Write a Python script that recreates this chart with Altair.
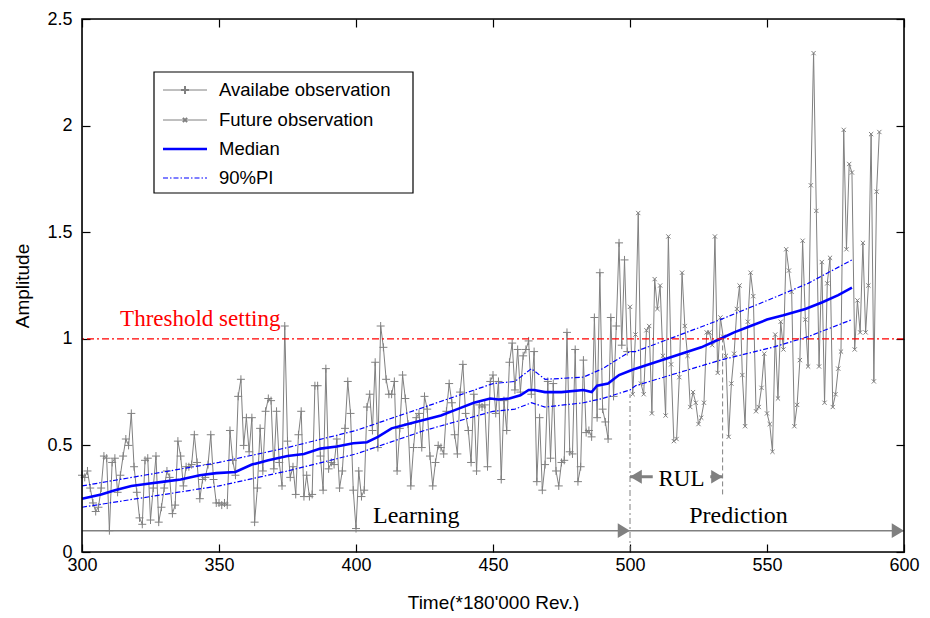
import altair as alt
import pandas as pd

# ---------------- data ----------------
avail_start = 300
avail_vals = [
    0.36, 0.35, 0.38, 0.30, 0.23, 0.19, 0.21, 0.30, 0.45, 0.44,
    0.10, 0.42, 0.44, 0.28, 0.36, 0.45, 0.53, 0.50, 0.65, 0.40,
    0.28, 0.16, 0.13, 0.43, 0.44, 0.15, 0.30, 0.45, 0.14, 0.21,
    0.30, 0.38, 0.35, 0.18, 0.22, 0.52, 0.45, 0.31, 0.40, 0.40,
    0.41, 0.55, 0.42, 0.25, 0.34, 0.35, 0.41, 0.55, 0.34, 0.23,
    0.23,
    0.22, 0.23, 0.22, 0.57, 0.43, 0.36, 0.73, 0.81, 0.50, 0.63,
    0.47, 0.63, 0.14, 0.30, 0.58, 0.38, 0.66, 0.72, 0.71, 0.39,
    0.66, 0.42, 0.31, 1.06, 0.52, 0.35, 0.40, 0.27, 0.55, 0.66,
    0.26, 0.36, 0.26, 0.27, 0.78, 0.78, 0.45, 0.29, 0.86, 0.39,
    0.42, 0.41, 0.53, 0.30, 0.38, 0.58, 0.80, 0.65, 0.29, 0.11,
    0.38, 0.26, 0.29, 0.68, 0.74, 0.57, 0.89, 0.49, 1.06, 0.96,
    0.81, 0.74, 0.74, 0.80, 0.38, 0.58, 0.83, 0.72, 0.60, 0.31,
    0.49, 0.63, 0.65, 0.49, 0.73, 0.67, 0.45, 0.31, 0.42, 0.50,
    0.49, 0.46, 0.66, 0.79, 0.70, 0.55, 0.46, 0.75, 0.88, 0.65,
    0.57, 0.42, 0.74, 0.38, 0.69, 0.68, 0.69, 0.40, 0.80, 0.83,
    0.65,
    0.80, 0.34, 0.71, 0.57, 0.89, 0.98, 0.76, 0.95, 0.75, 0.92,
    0.95, 0.99, 0.74, 0.94, 0.33, 0.63, 0.29, 0.41, 0.80, 0.44,
    0.79, 0.38, 0.31, 0.42, 0.43, 1.03, 0.47, 0.46, 0.95, 0.33,
    0.40, 0.90, 0.56, 0.57, 0.54, 1.10, 0.63, 1.31, 0.67, 0.61,
    0.53, 1.10, 0.73, 1.06, 1.45, 0.97, 1.37, 0.94,
]

future_start = 500
future_vals = [
    1.15, 0.74, 1.02, 1.59, 0.79, 0.74, 1.04, 1.06, 0.65,
    1.28, 1.14, 1.25, 0.92, 0.64, 1.48, 0.88, 0.52, 0.53, 0.82,
    1.31, 1.06, 0.92, 0.68, 0.75, 0.70, 0.60, 0.63, 0.70, 1.03,
    1.03, 0.97, 1.48, 0.84, 1.10, 1.01, 0.92, 0.54, 0.79, 0.93,
    1.14, 1.25, 0.83, 0.59, 1.08, 1.31, 1.20, 0.66, 0.68, 0.77,
    0.93, 0.65, 0.60, 0.47, 1.02, 0.72, 1.08, 0.95, 1.42, 1.32,
    1.22, 0.59, 0.69, 0.90, 1.46, 1.09, 0.87, 1.72, 2.34, 1.60,
    0.87, 1.36, 0.70, 1.26, 1.38, 0.68, 0.74, 0.86, 0.94, 1.98,
    1.42, 1.82, 1.78, 0.95, 1.18, 1.03, 1.45, 1.03, 1.25, 1.96,
    0.80, 1.69, 1.97,
]

median_t = [300, 307, 312, 318, 324, 330, 336, 343, 349, 356, 362, 368, 375,
            381, 387, 393, 399, 404, 408, 413, 419, 425, 431, 437, 443, 449,
            452, 456, 460, 463, 465, 469, 475, 483, 486, 488, 492, 494, 496,
            500, 502, 514, 526, 533, 538, 544, 550, 556, 564, 570, 576, 581]
median_v = [0.25, 0.27, 0.29, 0.31, 0.32, 0.33, 0.34, 0.36, 0.37, 0.375, 0.41,
            0.43, 0.45, 0.46, 0.485, 0.495, 0.51, 0.515, 0.54, 0.58, 0.60, 0.62,
            0.64, 0.67, 0.70, 0.72, 0.715, 0.72, 0.735, 0.76, 0.76, 0.75, 0.75,
            0.76, 0.75, 0.78, 0.79, 0.81, 0.83, 0.85, 0.86, 0.91, 0.96, 1.00,
            1.03, 1.06, 1.09, 1.11, 1.14, 1.17, 1.205, 1.24]

pi_t = [300, 350, 375, 400, 425, 450, 458, 464, 469, 483, 490, 500, 502,
        533, 552, 565, 581]
pi_lo = [0.21, 0.31, 0.38, 0.46, 0.57, 0.66, 0.67, 0.70, 0.68, 0.70, 0.72,
         0.76, 0.78, 0.90, 0.96, 1.01, 1.09]
pi_hi = [0.31, 0.42, 0.49, 0.57, 0.68, 0.79, 0.80, 0.86, 0.81, 0.82, 0.86,
         0.94, 0.94, 1.09, 1.19, 1.26, 1.37]

threshold = 1.0
learn_start, learn_end, pred_end = 300, 500, 600
phase_level = 0.1
rul_start, rul_end, rul_level = 500, 533.8, 0.353
vline_500 = [0.0, 0.74]
vline_rul = [0.27, 1.0]

x_ticks = [300, 350, 400, 450, 500, 550, 600]
y_ticks = [0, 0.5, 1, 1.5, 2, 2.5]

legend_labels = ["Availabe observation", "Future observation", "Median", "90%PI"]

# ---------------- styling ----------------
W, H = 822, 533
GRAY = "#808080"
BLUE = "#0000ff"
SANS = "Liberation Sans, Arial, sans-serif"
SERIF = "Liberation Serif, Times New Roman, serif"
PLUS = "M-1,0L1,0M0,-1L0,1"
CROSS = "M-1,-1L1,1M-1,1L1,-1"
HEAD_R = "M0,0L-1,-0.6L-1,0.6Z"
HEAD_L = "M0,0L1,-0.6L1,0.6Z"

xs = alt.Scale(domain=[300, 600], nice=False, zero=False)
ys = alt.Scale(domain=[0, 2.5], nice=False, zero=False)


def X(f, axis=None):
    return alt.X(f"{f}:Q", scale=xs, axis=axis)


def Y(f, axis=None):
    return alt.Y(f"{f}:Q", scale=ys, axis=axis)


common_ax = dict(offset=-8, tickSize=8, domain=False, grid=False,
                 tickColor="black", tickWidth=1.2, labelColor="black",
                 labelFont=SANS, labelFlush=False, labelOverlap=False,
                 titleFont=SANS, titleFontWeight="normal", titleColor="black")

ax_bottom = alt.Axis(values=x_ticks, orient="bottom", labelPadding=4,
                     labelFontSize=18, title="Time(*180'000 Rev.)",
                     titleFontSize=19, titlePadding=19, **common_ax)
ax_left = alt.Axis(values=y_ticks, orient="left", labelPadding=10,
                   labelFontSize=18, format="~g", title="Amplitude",
                   titleFontSize=19, titlePadding=14, **common_ax)
ax_top = alt.Axis(values=x_ticks, orient="top", labels=False, title=None,
                  **common_ax)
ax_right = alt.Axis(values=y_ticks, orient="right", labels=False, title=None,
                    **common_ax)

obs_df = pd.DataFrame({"t": [avail_start + i for i in range(len(avail_vals))],
                       "v": avail_vals})
fut_df = pd.DataFrame({"t": [future_start + i for i in range(len(future_vals))],
                       "v": future_vals})
med_df = pd.DataFrame({"t": median_t, "v": median_v})
pi_df = pd.concat([
    pd.DataFrame({"t": pi_t, "v": pi_lo, "b": "lo"}),
    pd.DataFrame({"t": pi_t, "v": pi_hi, "b": "hi"}),
])

layers = []

# frame ticks (top/right)
layers.append(alt.Chart(obs_df).mark_point(opacity=0).encode(
    x=X("t", ax_top), y=Y("v", ax_right)))

# available observations
layers.append(alt.Chart(obs_df).mark_line(color=GRAY, strokeWidth=1).encode(
    x=X("t", ax_bottom), y=Y("v", ax_left)))
layers.append(alt.Chart(obs_df).mark_point(shape=PLUS, size=64, filled=False,
                                           color=GRAY, strokeWidth=1, opacity=1).encode(
    x=X("t"), y=Y("v")))

# future observations
layers.append(alt.Chart(fut_df).mark_line(color=GRAY, strokeWidth=1).encode(
    x=X("t"), y=Y("v")))
layers.append(alt.Chart(fut_df).mark_point(shape=CROSS, size=18, filled=False,
                                           color=GRAY, strokeWidth=1, opacity=1).encode(
    x=X("t"), y=Y("v")))

# prediction interval and median
layers.append(alt.Chart(pi_df).mark_line(color=BLUE, strokeWidth=1.2,
                                         strokeDash=[5, 2, 1.5, 2]).encode(
    x=X("t"), y=Y("v"), detail="b:N"))
layers.append(alt.Chart(med_df).mark_line(color=BLUE, strokeWidth=2.6).encode(
    x=X("t"), y=Y("v")))

# threshold
layers.append(alt.Chart(pd.DataFrame({"v": [threshold]})).mark_rule(
    color="#ff0000", strokeWidth=1.3, strokeDash=[7, 3, 2, 3]).encode(y=Y("v")))
layers.append(alt.Chart(pd.DataFrame({"t": [313.9], "v": [1.06],
                                      "s": ["Threshold setting"]})).mark_text(
    align="left", baseline="alphabetic", font=SERIF, fontSize=23,
    color="#ff0000").encode(x=X("t"), y=Y("v"), text="s:N"))

# vertical guide lines
layers.append(alt.Chart(pd.DataFrame({"t": [learn_end], "a": [vline_500[0]],
                                      "b": [vline_500[1]]})).mark_rule(
    color=GRAY, strokeWidth=1, strokeDash=[6, 3, 2, 3]).encode(
    x=X("t"), y=Y("a"), y2="b"))
layers.append(alt.Chart(pd.DataFrame({"t": [rul_end], "a": [vline_rul[0]],
                                      "b": [vline_rul[1]]})).mark_rule(
    color=GRAY, strokeWidth=1, strokeDash=[5, 3]).encode(
    x=X("t"), y=Y("a"), y2="b"))

# learning / prediction arrows
layers.append(alt.Chart(pd.DataFrame({"a": [learn_start], "b": [pred_end],
                                      "v": [phase_level]})).mark_rule(
    color=GRAY, strokeWidth=1.5).encode(x=X("a"), x2="b", y=Y("v")))
layers.append(alt.Chart(pd.DataFrame({"t": [learn_end, pred_end],
                                      "v": [phase_level, phase_level]})).mark_point(
    shape=HEAD_R, size=600, filled=True, color=GRAY, opacity=1).encode(
    x=X("t"), y=Y("v")))
layers.append(alt.Chart(pd.DataFrame({"t": [(learn_start + learn_end) / 2 + 22,
                                            (learn_end + pred_end) / 2 - 10.4],
                                      "v": [0.135, 0.135],
                                      "s": ["Learning", "Prediction"]})).mark_text(
    align="center", baseline="alphabetic", font=SERIF, fontSize=24,
    color="black").encode(x=X("t"), y=Y("v"), text="s:N"))

# RUL arrow
rul_mid = (rul_start + rul_end) / 2 + 1.9
rul_gap = 10.5
layers.append(alt.Chart(pd.DataFrame({"a": [rul_start, rul_mid + rul_gap],
                                      "b": [rul_mid - rul_gap, rul_end],
                                      "v": [rul_level, rul_level]})).mark_rule(
    color=GRAY, strokeWidth=3).encode(x=X("a"), x2="b", y=Y("v")))
layers.append(alt.Chart(pd.DataFrame({"t": [rul_start], "v": [rul_level]})).mark_point(
    shape=HEAD_L, size=560, filled=True, color=GRAY, opacity=1).encode(
    x=X("t"), y=Y("v")))
layers.append(alt.Chart(pd.DataFrame({"t": [rul_end], "v": [rul_level]})).mark_point(
    shape=HEAD_R, size=520, filled=True, color=GRAY, opacity=1).encode(
    x=X("t"), y=Y("v")))
layers.append(alt.Chart(pd.DataFrame({"t": [rul_mid], "v": [0.31],
                                      "s": ["RUL"]})).mark_text(
    align="center", baseline="alphabetic", font=SERIF, fontSize=23,
    color="black").encode(x=X("t"), y=Y("v"), text="s:N"))

# legend (manual, pixel layout)
one = pd.DataFrame({"k": [0]})
layers.append(alt.Chart(one).mark_rect(fill="white", stroke="black",
                                       strokeWidth=1.2).encode(
    x=alt.value(72), x2=alt.value(331), y=alt.value(53), y2=alt.value(174)))
rows = [71, 101, 130, 159]
line_styles = [
    dict(color=GRAY, strokeWidth=1),
    dict(color=GRAY, strokeWidth=1),
    dict(color=BLUE, strokeWidth=2.6),
    dict(color=BLUE, strokeWidth=1.2, strokeDash=[5, 2, 1.5, 2]),
]
for ry, st in zip(rows, line_styles):
    layers.append(alt.Chart(one).mark_rule(**st).encode(
        x=alt.value(81), x2=alt.value(125), y=alt.value(ry)))
layers.append(alt.Chart(one).mark_point(shape=PLUS, size=64, filled=False,
                                        color=GRAY, opacity=1).encode(
    x=alt.value(103), y=alt.value(rows[0])))
layers.append(alt.Chart(one).mark_point(shape=CROSS, size=18, filled=False,
                                        color=GRAY, opacity=1).encode(
    x=alt.value(103), y=alt.value(rows[1])))
for ry, lab in zip(rows, legend_labels):
    layers.append(alt.Chart(pd.DataFrame({"s": [lab]})).mark_text(
        align="left", baseline="middle", font=SANS, fontSize=18.5,
        color="black").encode(x=alt.value(137), y=alt.value(ry), text="s:N"))

# plot frame
layers.append(alt.Chart(one).mark_rect(fill="white", fillOpacity=0, stroke="black",
                                       strokeWidth=1.6).encode(
    x=alt.value(0), x2=alt.value(W), y=alt.value(0), y2=alt.value(H)))

chart = alt.layer(*layers).resolve_axis(x="independent", y="independent").properties(
    width=W, height=H,
    padding={"left": 74, "top": 11, "right": 16, "bottom": 59},
    autosize=alt.AutoSizeParams(type="none"),
).configure_view(stroke=None).configure(background="white")

chart.save("out.html", embed_options={"renderer": "svg", "actions": False})
